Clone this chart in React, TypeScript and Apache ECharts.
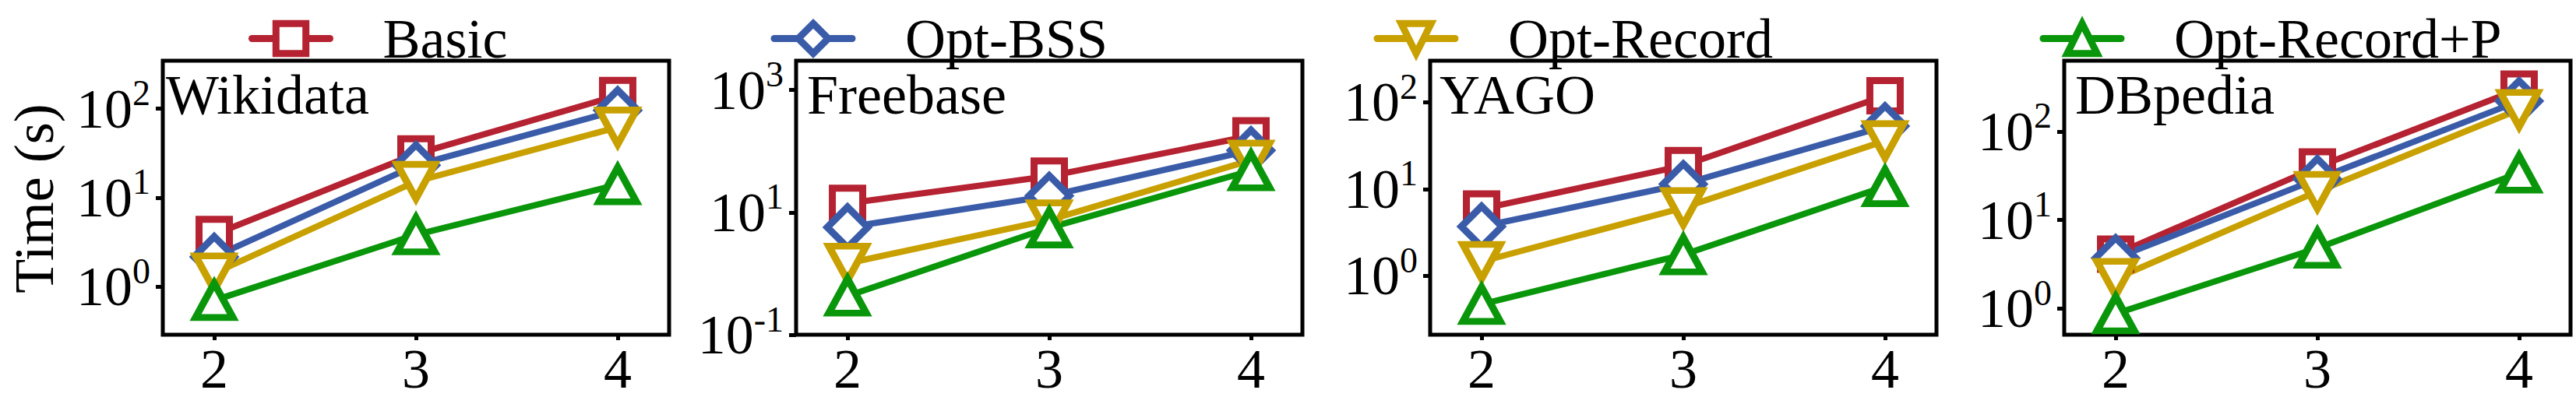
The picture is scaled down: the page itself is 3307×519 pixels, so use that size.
import React, { useEffect, useRef } from 'react';
import * as echarts from 'echarts';

// ---------- data ----------
const xValues = [2, 3, 4];
const seriesNames = ['Basic', 'Opt-BSS', 'Opt-Record', 'Opt-Record+P'];
const datasetNames = ['Wikidata', 'Freebase', 'YAGO', 'DBpedia'];

// rows: Basic, Opt-BSS, Opt-Record, Opt-Record+P ; columns: x = 2, 3, 4
const wikidataTimes = [
  [3.86, 31, 141],
  [2.16, 23.2, 96],
  [1.42, 15.2, 62],
  [0.7, 3.83, 14.0],
];
const freebaseTimes = [
  [14, 39, 178],
  [5.7, 18.6, 103],
  [1.47, 7.5, 71],
  [0.43, 5.6, 48],
];
const yagoTimes = [
  [5.9, 18.6, 119],
  [3.7, 11.4, 53],
  [1.46, 6.1, 36],
  [0.47, 1.75, 10.7],
];
const dbpediaTimes = [
  [4.1, 39.7, 302],
  [3.7, 29.1, 221],
  [2.18, 21, 177],
  [0.87, 4.8, 34],
];
const allTimes = [wikidataTimes, freebaseTimes, yagoTimes, dbpediaTimes];

// y tick values (log axis)
const wikidataYTicks = [1, 10, 100];
const freebaseYTicks = [0.1, 10, 1000];
const yagoYTicks = [1, 10, 100];
const dbpediaYTicks = [1, 10, 100];
const allYTicks = [wikidataYTicks, freebaseYTicks, yagoYTicks, dbpediaYTicks];

// y axis limits (as exponents of 10)
const wikidataYExp = [-0.541, 2.54];
const freebaseYExp = [-1, 3.478];
const yagoYExp = [-0.679, 2.479];
const dbpediaYExp = [-0.298, 2.801];
const allYExp = [wikidataYExp, freebaseYExp, yagoYExp, dbpediaYExp];

const yAxisTitle = 'Time (s)';

// ---------- styles ----------
const FONT = 'Liberation Serif';
const COLORS = ['#B52231', '#3A5CA8', '#C8A000', '#0A960A'];
const SYMBOLS = ['rect', 'diamond', 'triangle', 'triangle'];
const ROTATES = [0, 0, 180, 0];
const SIZES: number[][] = [[39, 39], [52, 52], [48, 44], [48, 44]];
const GRID_LEFTS = [209, 1022, 1836, 2650];
const GRID_TOP = 78;
const GRID_W = 650;
const GRID_H = 352;
const LEGEND_LEFTS = [319, 989.5, 1763.5, 2618.5];
const TITLE_LEFTS = [213, 1036, 1848, 2664];

function buildOption() {
  const grid = GRID_LEFTS.map((left) => ({
    left,
    top: GRID_TOP,
    width: GRID_W,
    height: GRID_H,
    show: true,
    borderColor: '#000',
    borderWidth: 5,
    backgroundColor: 'transparent',
    containLabel: false,
  }));

  const xAxis = GRID_LEFTS.map((_, i) => ({
    type: 'value',
    gridIndex: i,
    min: 1.745,
    max: 4.255,
    splitLine: { show: false },
    axisLine: { show: false },
    axisTick: {
      show: true,
      length: 7,
      lineStyle: { color: '#000', width: 5 },
      customValues: xValues,
    },
    axisLabel: {
      customValues: xValues,
      fontSize: 72,
      fontFamily: FONT,
      color: '#000',
      margin: 8,
      formatter: (v: number) => String(Math.round(v)),
    },
  }));

  const yAxis = GRID_LEFTS.map((_, i) => ({
    type: 'log',
    logBase: 10,
    gridIndex: i,
    min: Math.pow(10, allYExp[i][0]),
    max: Math.pow(10, allYExp[i][1]),
    splitLine: { show: false },
    minorTick: { show: false },
    axisLine: { show: false },
    axisTick: {
      show: true,
      length: 9,
      lineStyle: { color: '#000', width: 5 },
      customValues: allYTicks[i],
    },
    axisLabel: {
      customValues: allYTicks[i],
      margin: 16,
      color: '#000',
      fontFamily: FONT,
      formatter: (v: number) => `{b|10}{s|${Math.round(Math.log10(v))}}`,
      rich: {
        b: { fontSize: 72, fontFamily: FONT, color: '#000', lineHeight: 86 },
        s: { fontSize: 46, fontFamily: FONT, color: '#000', lineHeight: 46, verticalAlign: 'top' },
      },
    },
  }));

  const series: any[] = [];
  allTimes.forEach((rows, i) => {
    rows.forEach((vals, j) => {
      series.push({
        type: 'line',
        name: seriesNames[j],
        xAxisIndex: i,
        yAxisIndex: i,
        data: xValues.map((x, k) => [x, vals[k]]),
        symbol: SYMBOLS[j],
        symbolSize: SIZES[j],
        symbolRotate: ROTATES[j],
        showSymbol: true,
        clip: false,
        color: COLORS[j],
        lineStyle: { color: COLORS[j], width: 8, cap: 'round' },
        itemStyle: { color: '#fff', borderColor: COLORS[j], borderWidth: 9 },
        emphasis: { disabled: true },
        z: 2,
      });
    });
  });

  const legend = seriesNames.map((name, j) => ({
    data: [name],
    left: LEGEND_LEFTS[j],
    top: 13.5,
    padding: 0,
    itemGap: 0,
    itemWidth: 100,
    itemHeight: 48,
    selectedMode: false,
    itemStyle: { borderWidth: 9 },
    lineStyle: { width: 9, cap: 'round' },
    textStyle: {
      fontSize: 72,
      fontFamily: FONT,
      color: '#000',
      lineHeight: 48,
      padding: [0, 0, 0, 63],
    },
  }));

  const title = datasetNames.map((name, i) => ({
    text: name,
    left: TITLE_LEFTS[i],
    top: 86,
    padding: 0,
    textStyle: {
      fontSize: 72,
      fontWeight: 'normal',
      fontFamily: FONT,
      color: '#000',
      lineHeight: 72,
    },
  }));

  return {
    animation: false,
    backgroundColor: '#fff',
    textStyle: { fontFamily: FONT },
    title,
    legend,
    grid,
    xAxis,
    yAxis,
    series,
    graphic: [
      {
        type: 'text',
        x: 44,
        y: 255,
        rotation: Math.PI / 2,
        style: {
          text: yAxisTitle,
          fontSize: 72,
          fontFamily: FONT,
          fill: '#000',
          align: 'center',
          verticalAlign: 'middle',
        },
      },
    ],
  };
}

export default function App() {
  const ref = useRef<HTMLDivElement>(null);
  useEffect(() => {
    if (!ref.current) return;
    const chart = echarts.init(ref.current, undefined, { renderer: 'svg' });
    chart.setOption(buildOption() as any);
    return () => chart.dispose();
  }, []);
  return (
    <div
      ref={ref}
      style={{ position: 'absolute', left: 0, top: 0, width: 3307, height: 519, background: '#fff' }}
    />
  );
}
